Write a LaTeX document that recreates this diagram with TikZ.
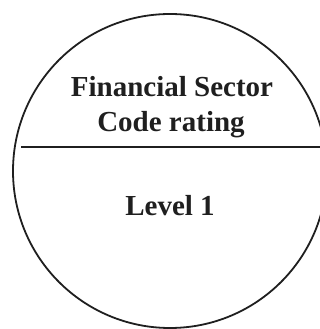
\documentclass[tikz,border=0pt]{standalone}
\usepackage{fontspec}
\setmainfont{Liberation Serif}
\begin{document}
\begin{tikzpicture}[x=1pt,y=1pt,
  lbl/.style={anchor=base,inner sep=0pt,font=\fontsize{29}{31}\selectfont\bfseries,text=black!88},
  ln/.style={line width=1.8pt,draw=black!88}]
\useasboundingbox (0,0) rectangle (320,329);
\begin{scope}
\clip (0,0) rectangle (320,329);
\node[ln,circle,minimum size=314pt,inner sep=0pt] (c) at (170,158) {};
\coordinate (l) at (21,182);
\coordinate (r) at (322,182);
\draw[ln] (l) -- (r);
\end{scope}
\node[lbl] (t1) at (172,232) {Financial Sector};
\node[lbl] (t2) at (171,197) {Code rating};
\node[lbl] (t3) at (170,113) {Level 1};
\end{tikzpicture}
\end{document}
